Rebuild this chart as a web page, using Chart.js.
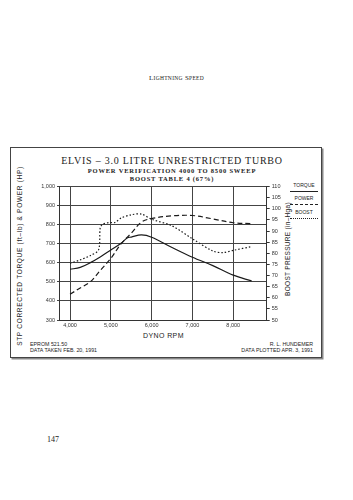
<!DOCTYPE html>
<html>
<head>
<meta charset="utf-8">
<script src="https://cdn.jsdelivr.net/npm/chart.js@4.4.0/dist/chart.umd.min.js"></script>
<style>
  html, body { margin: 0; padding: 0; background: #fff; }
  body { width: 353px; height: 500px; position: relative; overflow: hidden; color: #222; }
  #chart { position: absolute; left: 0; top: 0; }
  .t { position: absolute; white-space: nowrap; line-height: 1; }
  .serif { font-family: "Liberation Serif", serif; }
  .sans { font-family: "Liberation Sans", sans-serif; }
  #frame { position: absolute; left: 10px; top: 147px; width: 310px; height: 209px;
           border: 1px solid #444; box-shadow: 1.5px 1.5px 0 #888; }
  .legline { position: absolute; left: 290px; width: 28px; height: 0; border-top: 1.4px solid #222; }
</style>
</head>
<body>
<div class="t serif" style="left:0;width:353px;text-align:center;top:75px;font-size:7px;letter-spacing:0.3px;">L<span style="font-size:5.5px">IGHTNING</span> S<span style="font-size:5.5px">PEED</span></div>

<div id="frame"></div>

<div class="t serif" style="left:40px;width:264px;text-align:center;top:156px;font-size:10px;letter-spacing:0.75px;">ELVIS &ndash; 3.0 LITRE UNRESTRICTED TURBO</div>
<div class="t serif" style="left:40px;width:264px;text-align:center;top:168px;font-size:6.5px;font-weight:bold;letter-spacing:0.8px;">POWER VERIFICATION 4000 TO 8500 SWEEP</div>
<div class="t serif" style="left:40px;width:264px;text-align:center;top:176px;font-size:6.5px;font-weight:bold;letter-spacing:0.8px;">BOOST TABLE 4 (67%)</div>

<div class="t sans" style="left:20px;top:256px;font-size:6.5px;letter-spacing:0.7px;transform:translate(-50%,-50%) rotate(-90deg);">STP CORRECTED TORQUE (ft&ndash;lb) &amp; POWER (HP)</div>
<div class="t sans" style="left:288px;top:249px;font-size:6.5px;letter-spacing:0.3px;transform:translate(-50%,-50%) rotate(-90deg);">BOOST PRESSURE (in&ndash;Hga)</div>

<div class="t sans" style="left:290px;width:28px;text-align:center;top:183px;font-size:5px;">TORQUE</div>
<div class="legline" style="top:191px;"></div>
<div class="t sans" style="left:290px;width:28px;text-align:center;top:196px;font-size:5px;">POWER</div>
<div class="legline" style="top:204px;border-top-style:dashed;"></div>
<div class="t sans" style="left:290px;width:28px;text-align:center;top:210px;font-size:5px;">BOOST</div>
<div class="legline" style="top:218px;border-top-style:dotted;"></div>

<div class="t sans" style="left:143px;top:332px;font-size:7px;letter-spacing:0.4px;">DYNO RPM</div>

<div class="t sans" style="left:30px;top:342px;font-size:5.3px;">EPROM 521.50</div>
<div class="t sans" style="left:30px;top:348px;font-size:5.3px;">DATA TAKEN FEB. 20, 1991</div>
<div class="t sans" style="right:40px;top:342px;font-size:5.3px;text-align:right;">R. L. HUNDEMER</div>
<div class="t sans" style="right:40px;top:348px;font-size:5.3px;text-align:right;">DATA PLOTTED APR. 3, 1991</div>

<div class="t serif" style="left:47px;top:436px;font-size:8px;">147</div>

<canvas id="chart" width="353" height="500"></canvas>
<script>
// values
const torqueRpm = [4000, 4250, 4500, 4750, 5000, 5250, 5400, 5500, 5750, 6000, 6500, 7000, 7500, 8000, 8450];
const torque = [566, 576, 601, 632, 667, 702, 730, 735, 746, 734, 680, 629, 585, 535, 505];

const powerRpm = [4000, 4250, 4500, 4750, 5000, 5250, 5500, 5750, 6000, 6500, 7000, 7500, 8000, 8450];
const power = [435, 468, 501, 562, 623, 699, 755, 813, 832, 846, 848, 830, 810, 805];

const boostRpm = [4000, 4250, 4500, 4700, 4740, 4800, 4950, 5100, 5250, 5500, 5750, 6000, 6500, 7000, 7500, 7750, 8000, 8450];
const boost = [75.5, 77, 79, 81.5, 91.5, 93, 93.8, 93.8, 95.8, 97.3, 97.6, 95.3, 92.3, 86.5, 81, 80.3, 81.3, 83];

const rpmTicks = [4000, 5000, 6000, 7000, 8000];
const leftTicks = [300, 400, 500, 600, 700, 800, 900, 1000];
const rightTicks = [50, 55, 60, 65, 70, 75, 80, 85, 90, 95, 100, 105, 110];

function pts(xs, ys) {
    return xs.map((x, i) => ({ x: x, y: ys[i] }));
}

const tickFont = { family: 'Liberation Sans', size: 5.5 };

new Chart(document.getElementById('chart'), {
    type: 'line',
    data: {
        datasets: [
            { label: 'TORQUE', data: pts(torqueRpm, torque), yAxisID: 'y',
              borderColor: '#1a1a1a', borderWidth: 1.2, tension: 0.35 },
            { label: 'POWER', data: pts(powerRpm, power), yAxisID: 'y',
              borderColor: '#1a1a1a', borderWidth: 1.2, borderDash: [5, 3], tension: 0.35 },
            { label: 'BOOST', data: pts(boostRpm, boost), yAxisID: 'y1',
              borderColor: '#1a1a1a', borderWidth: 1.2, borderDash: [1.5, 2], tension: 0.3 }
        ]
    },
    options: {
        responsive: false,
        animation: false,
        events: [],
        elements: { point: { radius: 0 } },
        layout: { padding: { left: 20, top: 186.5, right: 56.3, bottom: 166 } },
        plugins: { legend: { display: false }, tooltip: { enabled: false } },
        scales: {
            x: {
                type: 'linear', min: 3730, max: 8820,
                afterBuildTicks: s => { s.ticks = rpmTicks.map(v => ({ value: v })); },
                afterFit: s => { s.height = 14; },
                grid: { color: '#444', lineWidth: 1, tickLength: 0 },
                border: { color: '#333', width: 1 },
                ticks: { font: tickFont, color: '#333', padding: 2, maxRotation: 0,
                         callback: v => v.toLocaleString('en-US') }
            },
            y: {
                position: 'left', min: 300, max: 1000,
                afterBuildTicks: s => { s.ticks = leftTicks.map(v => ({ value: v })); },
                afterFit: s => { s.width = 39; },
                grid: { color: '#444', lineWidth: 1, tickLength: 2 },
                border: { color: '#333', width: 1 },
                ticks: { font: tickFont, color: '#333', padding: 2,
                         callback: v => v.toLocaleString('en-US') }
            },
            y1: {
                position: 'right', min: 50, max: 110,
                afterBuildTicks: s => { s.ticks = rightTicks.map(v => ({ value: v })); },
                afterFit: s => { s.width = 30; },
                grid: { drawOnChartArea: false, color: '#333', tickLength: 3 },
                border: { color: '#333', width: 1 },
                ticks: { font: tickFont, color: '#333', padding: 2 }
            }
        }
    }
});
</script>
</body>
</html>
